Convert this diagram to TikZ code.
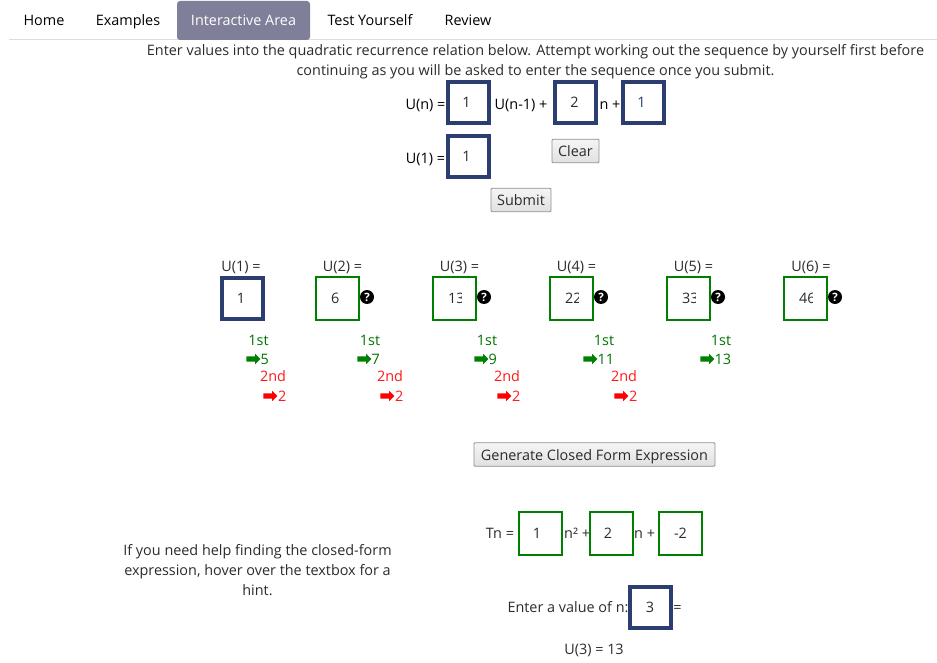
\documentclass[tikz,border=0pt]{standalone}
\usepackage{fontspec}
\setmainfont{Open Sans}
\usetikzlibrary{shapes.arrows}
\definecolor{navybox}{HTML}{2C3E70}
\definecolor{greenbox}{HTML}{008000}
\definecolor{tabgrey}{HTML}{7F7F99}
\definecolor{rulegrey}{HTML}{DDDDDD}
\definecolor{inktext}{HTML}{2B2B2B}
\definecolor{btnline}{HTML}{8F8F8F}
\tikzset{
  txt/.style={anchor=base,inner sep=0pt,text=inktext,font=\fontsize{14.4}{17}\selectfont},
  blk/.style={txt,text=black},
  grn/.style={txt,text=greenbox!90!black},
  rdd/.style={txt,text=red!90!white},
  navyinput/.style={draw=navybox,line width=4pt,fill=white,minimum size=41pt,inner sep=0pt},
  greeninput/.style={draw=greenbox,line width=2pt,fill=white,minimum size=43pt,inner sep=0pt},
  btn/.style={draw=btnline,line width=0.8pt,top color=white!96!black,bottom color=white!88!black,rounded corners=1pt,inner sep=0pt,minimum height=23.5pt,text height=14pt,text depth=3pt,text=inktext,font=\fontsize{14.4}{17}\selectfont},
  hintdot/.style={circle,fill=black,minimum size=14pt,inner sep=0pt,text=white,font=\fontsize{11.5}{11.5}\selectfont\bfseries},
  grnarrow/.style={single arrow,fill=greenbox,minimum height=14pt,inner sep=2.5pt,single arrow head extend=2.5pt,single arrow head indent=0pt,outer sep=0pt},
  redarrow/.style={grnarrow,fill=red},
}
\begin{document}
\begin{tikzpicture}[x=1pt,y=-1pt]
\useasboundingbox (0,0) rectangle (937,663);

\draw[rulegrey,line width=1pt] (9,39.5) -- (937,39.5);
\fill[tabgrey,rounded corners=3pt] (177,40) -- (177,1) -- (310,1) -- (310,40) -- cycle;
\node[blk] (home) at (44,26) {Home};
\node[blk] (examples) at (128,26) {Examples};
\node[txt,text=white] (interactive) at (243.5,26) {Interactive Area};
\node[blk] (testyou) at (370,26) {Test Yourself};
\node[blk] (review) at (468,26) {Review};

\node[txt] (introa) at (535.5,56) {Enter values into the quadratic recurrence relation below. Attempt working out the sequence by yourself first before};
\node[txt] (introb) at (535.5,76) {continuing as you will be asked to enter the sequence once you submit.};

\node[blk] (unlabel) at (425.5,110) {U(n) =};
\node[navyinput] (inpa) at (468.5,102.5) {};
\node[txt] at (466.5,108) {1};
\node[blk] (unprev) at (521,110) {U(n-1) +};
\node[navyinput] (inpb) at (575.5,102.5) {};
\node[txt] at (574.5,108) {2};
\node[blk] (nplus) at (610,110) {n +};
\node[navyinput] (inpc) at (643.5,102.5) {};
\node[txt,text=navybox] at (641.5,108) {1};
\node[blk] (uone) at (425.5,164) {U(1) =};
\node[navyinput] (inpd) at (468.5,156.5) {};
\node[txt] at (466.5,162) {1};
\node[btn,minimum width=47pt] (clearbtn) at (575.5,151) {Clear};
\node[btn,minimum width=60pt] (submitbtn) at (521,200) {Submit};

\node[txt] (ulaba) at (241,271) {U(1) =};
\node[txt] (ulabb) at (342.5,271) {U(2) =};
\node[txt] (ulabc) at (459.5,271) {U(3) =};
\node[txt] (ulabd) at (576.5,271) {U(4) =};
\node[txt] (ulabe) at (693.5,271) {U(5) =};
\node[txt] (ulabf) at (811,271) {U(6) =};

\node[navyinput] (seqa) at (242.5,298.5) {};
\node[txt] at (241,303) {1};
\node[greeninput] (seqb) at (337.5,298.5) {};
\node[txt,anchor=base west] at (331,303) {6};
\node[greeninput] (seqc) at (454.5,298.5) {};
\node[txt,anchor=base west] at (448,303) {13};
\fill[white] (462,290) rectangle (466,308);
\node[greeninput] (seqd) at (571.5,298.5) {};
\node[txt,anchor=base west] at (565,303) {22};
\fill[white] (579,290) rectangle (583,308);
\node[greeninput] (seqe) at (688.5,298.5) {};
\node[txt,anchor=base west] at (682,303) {33};
\fill[white] (696,290) rectangle (700,308);
\node[greeninput] (seqf) at (805.5,298.5) {};
\node[txt,anchor=base west] at (799,303) {46};
\fill[white] (813,290) rectangle (817,308);

\node[hintdot] (hintb) at (367,297) {?};
\node[hintdot] (hintc) at (484,297) {?};
\node[hintdot] (hintd) at (601,297) {?};
\node[hintdot] (hinte) at (718,297) {?};
\node[hintdot] (hintf) at (835,297) {?};

\node[grn] (firsta) at (258.5,345) {1st};
\node[grnarrow] (arra) at (252,359) {};
\node[grn,anchor=base west] (diffa) at (260.5,364) {5};
\node[grn] (firstb) at (370,345) {1st};
\node[grnarrow] (arrb) at (363,359) {};
\node[grn,anchor=base west] (diffb) at (371.5,364) {7};
\node[grn] (firstc) at (487,345) {1st};
\node[grnarrow] (arrc) at (480,359) {};
\node[grn,anchor=base west] (diffc) at (488.5,364) {9};
\node[grn] (firstd) at (604,345) {1st};
\node[grnarrow] (arrd) at (589,359) {};
\node[grn,anchor=base west] (diffd) at (597.5,364) {11};
\node[grn] (firste) at (721,345) {1st};
\node[grnarrow] (arre) at (706,359) {};
\node[grn,anchor=base west] (diffe) at (714.5,364) {13};

\node[rdd] (seconda) at (273,381) {2nd};
\node[redarrow] (reda) at (269,396) {};
\node[rdd,anchor=base west] (ddiffa) at (278,401) {2};
\node[rdd] (secondb) at (390,381) {2nd};
\node[redarrow] (redb) at (386,396) {};
\node[rdd,anchor=base west] (ddiffb) at (395,401) {2};
\node[rdd] (secondc) at (507,381) {2nd};
\node[redarrow] (redc) at (503,396) {};
\node[rdd,anchor=base west] (ddiffc) at (512,401) {2};
\node[rdd] (secondd) at (624,381) {2nd};
\node[redarrow] (redd) at (620,396) {};
\node[rdd,anchor=base west] (ddiffd) at (629,401) {2};

\node[btn,minimum width=241pt] (genbtn) at (594.5,454.5) {Generate Closed Form Expression};

\node[txt] (helpa) at (257.5,555) {If you need help finding the closed-form};
\node[txt] (helpb) at (257.5,575) {expression, hover over the textbox for a};
\node[txt] (helpc) at (257.5,595) {hint.};

\node[txt] (tnlab) at (500,538) {Tn =};
\node[greeninput] (coefa) at (540.5,533.5) {};
\node[txt] at (537,538) {1};
\node[txt,anchor=base west] (npow) at (564,538) {n² +};
\node[greeninput] (coefb) at (611.5,533.5) {};
\node[txt] at (608,538) {2};
\node[txt,anchor=base west] (nplusb) at (634,538) {n +};
\node[greeninput] (coefc) at (680.5,533.5) {};
\node[txt] at (680.5,538) {-2};

\node[txt] (entern) at (568,612) {Enter a value of n:};
\node[navyinput] (inpn) at (650.5,607.5) {};
\node[txt] at (650,612) {3};
\node[txt] (eqsign) at (677.5,612) {=};
\node[txt] (result) at (594,654) {U(3) = 13};
\end{tikzpicture}
\end{document}
